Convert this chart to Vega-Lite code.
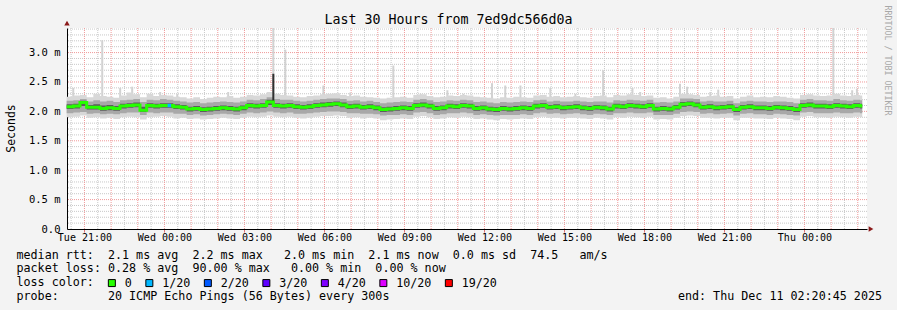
{
"$schema": "https://vega.github.io/schema/vega-lite/v6.json",
"autosize": "none",
"width": 800,
"height": 201,
"padding": {"left": 67, "top": 28, "right": 30, "bottom": 81},
"background": "#f3f3f3",
"config": {"view": {"fill": "white", "stroke": null}, "font": "DejaVu Sans Mono"},
"title": {"text": "Last 30 Hours from 7ed9dc566d0a", "font": "DejaVu Sans Mono", "fontSize": 13.3, "fontWeight": "normal", "color": "#000", "anchor": "middle", "baseline": "bottom", "dx": -18.5, "dy": 35, "offset": 0},
"datasets": {
"main": [
{"h":20.333,"a":1.90,"b":1.97,"c":2.04,"m":2.08,"d":2.12,"e":2.18,"f":2.25},
{"h":20.583,"a":1.91,"b":1.98,"c":2.05,"m":2.09,"d":2.13,"e":2.19,"f":2.27},
{"h":20.833,"a":1.93,"b":1.99,"c":2.09,"m":2.15,"d":2.18,"e":2.21,"f":2.28},
{"h":21.083,"a":1.89,"b":1.96,"c":2.03,"m":2.07,"d":2.11,"e":2.17,"f":2.24},
{"h":21.333,"a":1.90,"b":1.97,"c":2.03,"m":2.07,"d":2.12,"e":2.19,"f":2.30},
{"h":21.583,"a":1.88,"b":1.95,"c":2.01,"m":2.05,"d":2.10,"e":2.17,"f":2.26},
{"h":21.833,"a":1.89,"b":1.96,"c":2.02,"m":2.06,"d":2.11,"e":2.18,"f":2.25},
{"h":22.083,"a":1.87,"b":1.95,"c":2.01,"m":2.05,"d":2.09,"e":2.16,"f":2.23},
{"h":22.333,"a":1.90,"b":1.97,"c":2.05,"m":2.09,"d":2.13,"e":2.19,"f":2.27},
{"h":22.583,"a":1.91,"b":1.98,"c":2.06,"m":2.10,"d":2.14,"e":2.20,"f":2.32},
{"h":22.833,"a":1.90,"b":1.98,"c":2.07,"m":2.11,"d":2.15,"e":2.21,"f":2.29},
{"h":23.083,"a":1.86,"b":1.94,"c":1.99,"m":2.02,"d":2.08,"e":2.16,"f":2.24},
{"h":23.333,"a":1.90,"b":1.98,"c":2.06,"m":2.10,"d":2.14,"e":2.20,"f":2.30},
{"h":23.583,"a":1.91,"b":1.97,"c":2.05,"m":2.09,"d":2.13,"e":2.19,"f":2.26},
{"h":23.833,"a":1.92,"b":1.98,"c":2.06,"m":2.10,"d":2.14,"e":2.21,"f":2.28},
{"h":24.083,"a":1.91,"b":1.98,"c":2.06,"m":2.10,"d":2.14,"e":2.20,"f":2.27},
{"h":24.333,"a":1.88,"b":1.96,"c":2.04,"m":2.08,"d":2.12,"e":2.18,"f":2.25},
{"h":24.583,"a":1.89,"b":1.96,"c":2.03,"m":2.07,"d":2.11,"e":2.17,"f":2.24},
{"h":24.833,"a":1.87,"b":1.94,"c":2.00,"m":2.04,"d":2.08,"e":2.15,"f":2.22},
{"h":25.083,"a":1.88,"b":1.95,"c":2.01,"m":2.05,"d":2.09,"e":2.16,"f":2.24},
{"h":25.333,"a":1.86,"b":1.93,"c":1.99,"m":2.03,"d":2.07,"e":2.14,"f":2.21},
{"h":25.583,"a":1.87,"b":1.94,"c":2.00,"m":2.04,"d":2.08,"e":2.15,"f":2.23},
{"h":25.833,"a":1.88,"b":1.95,"c":2.01,"m":2.05,"d":2.09,"e":2.16,"f":2.25},
{"h":26.083,"a":1.89,"b":1.96,"c":2.02,"m":2.06,"d":2.10,"e":2.17,"f":2.24},
{"h":26.333,"a":1.88,"b":1.95,"c":2.01,"m":2.05,"d":2.09,"e":2.16,"f":2.26},
{"h":26.583,"a":1.87,"b":1.94,"c":2.00,"m":2.04,"d":2.08,"e":2.15,"f":2.23},
{"h":26.833,"a":1.89,"b":1.96,"c":2.02,"m":2.06,"d":2.10,"e":2.17,"f":2.25},
{"h":27.083,"a":1.91,"b":1.98,"c":2.06,"m":2.10,"d":2.14,"e":2.20,"f":2.28},
{"h":27.333,"a":1.90,"b":1.97,"c":2.05,"m":2.09,"d":2.13,"e":2.19,"f":2.27},
{"h":27.583,"a":1.91,"b":1.98,"c":2.06,"m":2.10,"d":2.14,"e":2.21,"f":2.29},
{"h":27.833,"a":1.93,"b":2.00,"c":2.11,"m":2.16,"d":2.20,"e":2.24,"f":2.33},
{"h":28.083,"a":1.91,"b":1.98,"c":2.06,"m":2.10,"d":2.14,"e":2.21,"f":2.30},
{"h":28.333,"a":1.90,"b":1.97,"c":2.05,"m":2.09,"d":2.13,"e":2.20,"f":2.28},
{"h":28.583,"a":1.91,"b":1.98,"c":2.06,"m":2.10,"d":2.14,"e":2.20,"f":2.27},
{"h":28.833,"a":1.89,"b":1.96,"c":2.04,"m":2.08,"d":2.12,"e":2.18,"f":2.25},
{"h":29.083,"a":1.88,"b":1.96,"c":2.03,"m":2.07,"d":2.11,"e":2.17,"f":2.24},
{"h":29.333,"a":1.89,"b":1.97,"c":2.04,"m":2.08,"d":2.12,"e":2.18,"f":2.26},
{"h":29.583,"a":1.91,"b":1.98,"c":2.06,"m":2.10,"d":2.14,"e":2.20,"f":2.27},
{"h":29.833,"a":1.92,"b":1.99,"c":2.07,"m":2.11,"d":2.15,"e":2.21,"f":2.29},
{"h":30.083,"a":1.92,"b":2.00,"c":2.08,"m":2.12,"d":2.16,"e":2.22,"f":2.30},
{"h":30.333,"a":1.93,"b":2.00,"c":2.09,"m":2.13,"d":2.17,"e":2.22,"f":2.31},
{"h":30.583,"a":1.92,"b":1.99,"c":2.07,"m":2.11,"d":2.15,"e":2.21,"f":2.28},
{"h":30.833,"a":1.89,"b":1.97,"c":2.04,"m":2.08,"d":2.12,"e":2.18,"f":2.26},
{"h":31.083,"a":1.90,"b":1.97,"c":2.05,"m":2.09,"d":2.13,"e":2.19,"f":2.27},
{"h":31.333,"a":1.88,"b":1.96,"c":2.03,"m":2.07,"d":2.11,"e":2.17,"f":2.25},
{"h":31.583,"a":1.89,"b":1.96,"c":2.04,"m":2.08,"d":2.12,"e":2.18,"f":2.24},
{"h":31.833,"a":1.88,"b":1.95,"c":2.02,"m":2.06,"d":2.10,"e":2.16,"f":2.23},
{"h":32.083,"a":1.85,"b":1.93,"c":1.99,"m":2.03,"d":2.07,"e":2.14,"f":2.22},
{"h":32.333,"a":1.86,"b":1.94,"c":2.00,"m":2.04,"d":2.08,"e":2.15,"f":2.23},
{"h":32.583,"a":1.87,"b":1.94,"c":2.01,"m":2.05,"d":2.09,"e":2.16,"f":2.24},
{"h":32.833,"a":1.88,"b":1.95,"c":2.02,"m":2.06,"d":2.10,"e":2.17,"f":2.25},
{"h":33.083,"a":1.87,"b":1.94,"c":2.01,"m":2.05,"d":2.09,"e":2.16,"f":2.23},
{"h":33.333,"a":1.91,"b":1.98,"c":2.06,"m":2.10,"d":2.14,"e":2.20,"f":2.28},
{"h":33.583,"a":1.92,"b":1.99,"c":2.07,"m":2.11,"d":2.15,"e":2.21,"f":2.29},
{"h":33.833,"a":1.90,"b":1.97,"c":2.05,"m":2.09,"d":2.13,"e":2.19,"f":2.26},
{"h":34.083,"a":1.87,"b":1.94,"c":2.01,"m":2.05,"d":2.09,"e":2.16,"f":2.24},
{"h":34.333,"a":1.88,"b":1.95,"c":2.02,"m":2.06,"d":2.10,"e":2.17,"f":2.25},
{"h":34.583,"a":1.90,"b":1.97,"c":2.05,"m":2.09,"d":2.13,"e":2.19,"f":2.27},
{"h":34.833,"a":1.89,"b":1.97,"c":2.04,"m":2.08,"d":2.12,"e":2.18,"f":2.26},
{"h":35.083,"a":1.91,"b":1.98,"c":2.06,"m":2.10,"d":2.14,"e":2.20,"f":2.28},
{"h":35.333,"a":1.90,"b":1.97,"c":2.05,"m":2.09,"d":2.13,"e":2.19,"f":2.27},
{"h":35.583,"a":1.87,"b":1.94,"c":2.01,"m":2.05,"d":2.09,"e":2.16,"f":2.25},
{"h":35.833,"a":1.88,"b":1.95,"c":2.02,"m":2.06,"d":2.10,"e":2.17,"f":2.24},
{"h":36.083,"a":1.86,"b":1.94,"c":2.00,"m":2.04,"d":2.08,"e":2.15,"f":2.23},
{"h":36.333,"a":1.85,"b":1.93,"c":1.99,"m":2.03,"d":2.07,"e":2.14,"f":2.22},
{"h":36.583,"a":1.87,"b":1.94,"c":2.01,"m":2.05,"d":2.09,"e":2.16,"f":2.24},
{"h":36.833,"a":1.86,"b":1.94,"c":2.00,"m":2.04,"d":2.08,"e":2.15,"f":2.23},
{"h":37.083,"a":1.87,"b":1.94,"c":2.01,"m":2.05,"d":2.09,"e":2.16,"f":2.25},
{"h":37.333,"a":1.88,"b":1.95,"c":2.02,"m":2.06,"d":2.10,"e":2.17,"f":2.24},
{"h":37.583,"a":1.87,"b":1.94,"c":2.01,"m":2.05,"d":2.09,"e":2.16,"f":2.23},
{"h":37.833,"a":1.90,"b":1.97,"c":2.05,"m":2.09,"d":2.13,"e":2.19,"f":2.27},
{"h":38.083,"a":1.91,"b":1.98,"c":2.06,"m":2.10,"d":2.14,"e":2.20,"f":2.28},
{"h":38.333,"a":1.89,"b":1.96,"c":2.03,"m":2.07,"d":2.11,"e":2.17,"f":2.25},
{"h":38.583,"a":1.89,"b":1.97,"c":2.04,"m":2.08,"d":2.12,"e":2.18,"f":2.26},
{"h":38.833,"a":1.88,"b":1.95,"c":2.02,"m":2.06,"d":2.10,"e":2.17,"f":2.24},
{"h":39.083,"a":1.89,"b":1.96,"c":2.03,"m":2.07,"d":2.11,"e":2.17,"f":2.25},
{"h":39.333,"a":1.89,"b":1.97,"c":2.04,"m":2.08,"d":2.12,"e":2.18,"f":2.26},
{"h":39.583,"a":1.88,"b":1.95,"c":2.02,"m":2.06,"d":2.10,"e":2.17,"f":2.24},
{"h":39.833,"a":1.87,"b":1.94,"c":2.01,"m":2.05,"d":2.09,"e":2.16,"f":2.23},
{"h":40.083,"a":1.89,"b":1.96,"c":2.03,"m":2.07,"d":2.11,"e":2.17,"f":2.26},
{"h":40.333,"a":1.88,"b":1.95,"c":2.02,"m":2.06,"d":2.10,"e":2.17,"f":2.27},
{"h":40.583,"a":1.86,"b":1.94,"c":2.00,"m":2.04,"d":2.08,"e":2.15,"f":2.24},
{"h":40.833,"a":1.90,"b":1.97,"c":2.05,"m":2.09,"d":2.13,"e":2.19,"f":2.28},
{"h":41.083,"a":1.89,"b":1.97,"c":2.04,"m":2.08,"d":2.12,"e":2.18,"f":2.27},
{"h":41.333,"a":1.91,"b":1.98,"c":2.06,"m":2.10,"d":2.14,"e":2.20,"f":2.29},
{"h":41.583,"a":1.90,"b":1.97,"c":2.05,"m":2.09,"d":2.13,"e":2.19,"f":2.28},
{"h":41.833,"a":1.89,"b":1.97,"c":2.04,"m":2.08,"d":2.12,"e":2.18,"f":2.26},
{"h":42.083,"a":1.91,"b":1.98,"c":2.06,"m":2.10,"d":2.14,"e":2.20,"f":2.27},
{"h":42.333,"a":1.86,"b":1.94,"c":2.00,"m":2.04,"d":2.08,"e":2.15,"f":2.23},
{"h":42.583,"a":1.87,"b":1.94,"c":2.01,"m":2.05,"d":2.09,"e":2.16,"f":2.24},
{"h":42.833,"a":1.86,"b":1.94,"c":2.00,"m":2.04,"d":2.08,"e":2.15,"f":2.22},
{"h":43.083,"a":1.89,"b":1.96,"c":2.03,"m":2.07,"d":2.11,"e":2.17,"f":2.25},
{"h":43.333,"a":1.92,"b":1.99,"c":2.08,"m":2.12,"d":2.16,"e":2.22,"f":2.30},
{"h":43.583,"a":1.93,"b":2.00,"c":2.09,"m":2.13,"d":2.17,"e":2.22,"f":2.29},
{"h":43.833,"a":1.92,"b":1.99,"c":2.07,"m":2.11,"d":2.15,"e":2.21,"f":2.28},
{"h":44.083,"a":1.89,"b":1.96,"c":2.03,"m":2.07,"d":2.11,"e":2.17,"f":2.25},
{"h":44.333,"a":1.89,"b":1.97,"c":2.04,"m":2.08,"d":2.12,"e":2.18,"f":2.26},
{"h":44.583,"a":1.88,"b":1.95,"c":2.02,"m":2.06,"d":2.10,"e":2.17,"f":2.27},
{"h":44.833,"a":1.89,"b":1.96,"c":2.03,"m":2.07,"d":2.11,"e":2.17,"f":2.25},
{"h":45.083,"a":1.89,"b":1.97,"c":2.04,"m":2.08,"d":2.12,"e":2.18,"f":2.26},
{"h":45.333,"a":1.85,"b":1.93,"c":1.99,"m":2.03,"d":2.07,"e":2.14,"f":2.22},
{"h":45.583,"a":1.89,"b":1.96,"c":2.03,"m":2.07,"d":2.11,"e":2.17,"f":2.25},
{"h":45.833,"a":1.89,"b":1.97,"c":2.04,"m":2.08,"d":2.12,"e":2.18,"f":2.27},
{"h":46.083,"a":1.88,"b":1.95,"c":2.02,"m":2.06,"d":2.10,"e":2.17,"f":2.24},
{"h":46.333,"a":1.88,"b":1.95,"c":2.02,"m":2.06,"d":2.10,"e":2.17,"f":2.25},
{"h":46.583,"a":1.87,"b":1.94,"c":2.01,"m":2.05,"d":2.09,"e":2.16,"f":2.24},
{"h":46.833,"a":1.89,"b":1.96,"c":2.03,"m":2.07,"d":2.11,"e":2.17,"f":2.26},
{"h":47.083,"a":1.88,"b":1.95,"c":2.02,"m":2.06,"d":2.10,"e":2.17,"f":2.25},
{"h":47.333,"a":1.87,"b":1.94,"c":2.01,"m":2.05,"d":2.09,"e":2.16,"f":2.23},
{"h":47.583,"a":1.85,"b":1.93,"c":1.99,"m":2.03,"d":2.07,"e":2.14,"f":2.22},
{"h":47.833,"a":1.91,"b":1.98,"c":2.06,"m":2.10,"d":2.14,"e":2.20,"f":2.28},
{"h":48.083,"a":1.92,"b":1.99,"c":2.07,"m":2.11,"d":2.15,"e":2.21,"f":2.29},
{"h":48.333,"a":1.90,"b":1.97,"c":2.05,"m":2.09,"d":2.13,"e":2.19,"f":2.27},
{"h":48.583,"a":1.90,"b":1.97,"c":2.05,"m":2.09,"d":2.13,"e":2.19,"f":2.26},
{"h":48.833,"a":1.89,"b":1.97,"c":2.04,"m":2.08,"d":2.12,"e":2.18,"f":2.27},
{"h":49.083,"a":1.91,"b":1.98,"c":2.06,"m":2.10,"d":2.14,"e":2.21,"f":2.30},
{"h":49.333,"a":1.90,"b":1.97,"c":2.05,"m":2.09,"d":2.13,"e":2.19,"f":2.27},
{"h":49.583,"a":1.89,"b":1.97,"c":2.04,"m":2.08,"d":2.12,"e":2.18,"f":2.26},
{"h":49.833,"a":1.91,"b":1.98,"c":2.06,"m":2.10,"d":2.14,"e":2.20,"f":2.28},
{"h":50.083,"a":1.90,"b":1.97,"c":2.05,"m":2.09,"d":2.13,"e":2.19,"f":2.27},
{"h":50.167,"a":1.90,"b":1.97,"c":2.05,"m":2.09,"d":2.13,"e":2.19,"f":2.27}
],
"sp": [
{"h":20.58,"lo":2.2,"hi":2.40,"k":"max"},
{"h":21.667,"lo":2.2,"hi":3.21,"k":"max"},
{"h":22.34,"lo":2.2,"hi":2.40,"k":"max"},
{"h":22.79,"lo":2.2,"hi":2.42,"k":"max"},
{"h":23.84,"lo":2.2,"hi":2.33,"k":"max"},
{"h":24.48,"lo":2.2,"hi":2.30,"k":"max"},
{"h":26.39,"lo":2.2,"hi":2.33,"k":"max"},
{"h":28.083,"lo":2.2,"hi":3.42,"k":"max"},
{"h":28.533,"lo":2.2,"hi":3.05,"k":"max"},
{"h":29.96,"lo":2.2,"hi":2.44,"k":"max"},
{"h":30.967,"lo":2.2,"hi":2.32,"k":"max"},
{"h":32.583,"lo":2.2,"hi":2.78,"k":"max"},
{"h":33.6,"lo":2.2,"hi":2.30,"k":"max"},
{"h":34.61,"lo":2.2,"hi":2.36,"k":"max"},
{"h":35.21,"lo":2.2,"hi":2.30,"k":"max"},
{"h":36.283,"lo":2.2,"hi":2.48,"k":"max"},
{"h":36.78,"lo":2.2,"hi":2.44,"k":"max"},
{"h":37.35,"lo":2.2,"hi":2.44,"k":"max"},
{"h":38.47,"lo":2.2,"hi":2.40,"k":"max"},
{"h":39.41,"lo":2.2,"hi":2.30,"k":"max"},
{"h":40.45,"lo":2.2,"hi":2.70,"k":"max"},
{"h":41.55,"lo":2.2,"hi":2.40,"k":"max"},
{"h":41.84,"lo":2.2,"hi":2.33,"k":"max"},
{"h":43.333,"lo":2.2,"hi":2.47,"k":"max"},
{"h":43.6,"lo":2.2,"hi":2.42,"k":"max"},
{"h":44.47,"lo":2.2,"hi":2.33,"k":"max"},
{"h":44.767,"lo":2.2,"hi":2.37,"k":"max"},
{"h":49.083,"lo":2.2,"hi":3.42,"k":"max"},
{"h":49.79,"lo":2.2,"hi":2.36,"k":"max"},
{"h":49.967,"lo":2.2,"hi":2.38,"k":"max"},
{"h":28.083,"lo":2.15,"hi":2.64,"k":"core"}
],
"loss": [
{"h":24.183,"m":2.10,"l":"1/20"}
],
"arrows": [
{"h":20.3458,"v":3.5,"s":"up"},
{"h":50.496,"v":0,"s":"right"}
],
"vgrid": [
{"h":20.5,"k":"minor"},{"h":21,"k":"major"},{"h":21.5,"k":"minor"},{"h":22,"k":"major"},{"h":22.5,"k":"minor"},{"h":23,"k":"major"},{"h":23.5,"k":"minor"},{"h":24,"k":"major"},
{"h":24.5,"k":"minor"},{"h":25,"k":"major"},{"h":25.5,"k":"minor"},{"h":26,"k":"major"},{"h":26.5,"k":"minor"},{"h":27,"k":"major"},{"h":27.5,"k":"minor"},{"h":28,"k":"major"},
{"h":28.5,"k":"minor"},{"h":29,"k":"major"},{"h":29.5,"k":"minor"},{"h":30,"k":"major"},{"h":30.5,"k":"minor"},{"h":31,"k":"major"},{"h":31.5,"k":"minor"},{"h":32,"k":"major"},
{"h":32.5,"k":"minor"},{"h":33,"k":"major"},{"h":33.5,"k":"minor"},{"h":34,"k":"major"},{"h":34.5,"k":"minor"},{"h":35,"k":"major"},{"h":35.5,"k":"minor"},{"h":36,"k":"major"},
{"h":36.5,"k":"minor"},{"h":37,"k":"major"},{"h":37.5,"k":"minor"},{"h":38,"k":"major"},{"h":38.5,"k":"minor"},{"h":39,"k":"major"},{"h":39.5,"k":"minor"},{"h":40,"k":"major"},
{"h":40.5,"k":"minor"},{"h":41,"k":"major"},{"h":41.5,"k":"minor"},{"h":42,"k":"major"},{"h":42.5,"k":"minor"},{"h":43,"k":"major"},{"h":43.5,"k":"minor"},{"h":44,"k":"major"},
{"h":44.5,"k":"minor"},{"h":45,"k":"major"},{"h":45.5,"k":"minor"},{"h":46,"k":"major"},{"h":46.5,"k":"minor"},{"h":47,"k":"major"},{"h":47.5,"k":"minor"},{"h":48,"k":"major"},
{"h":48.5,"k":"minor"},{"h":49,"k":"major"},{"h":49.5,"k":"minor"},{"h":50,"k":"major"}
],
"hgrid": [
{"v":0.1,"k":"minor"},{"v":0.2,"k":"minor"},{"v":0.3,"k":"minor"},{"v":0.4,"k":"minor"},{"v":0.5,"k":"major"},
{"v":0.6,"k":"minor"},{"v":0.7,"k":"minor"},{"v":0.8,"k":"minor"},{"v":0.9,"k":"minor"},{"v":1.0,"k":"major"},
{"v":1.1,"k":"minor"},{"v":1.2,"k":"minor"},{"v":1.3,"k":"minor"},{"v":1.4,"k":"minor"},{"v":1.5,"k":"major"},
{"v":1.6,"k":"minor"},{"v":1.7,"k":"minor"},{"v":1.8,"k":"minor"},{"v":1.9,"k":"minor"},{"v":2.0,"k":"major"},
{"v":2.1,"k":"minor"},{"v":2.2,"k":"minor"},{"v":2.3,"k":"minor"},{"v":2.4,"k":"minor"},{"v":2.5,"k":"major"},
{"v":2.6,"k":"minor"},{"v":2.7,"k":"minor"},{"v":2.8,"k":"minor"},{"v":2.9,"k":"minor"},{"v":3.0,"k":"major"},
{"v":3.1,"k":"minor"},{"v":3.2,"k":"minor"},{"v":3.3,"k":"minor"},{"v":3.4,"k":"minor"}
]
},
"layer": [
{
"data": {"name": "vgrid"},
"transform": [{"filter": "datum.k === 'minor'"}],
"mark": {"type": "rule", "color": "#c8c8c8", "strokeWidth": 1, "strokeDash": [1, 1]},
"encoding": {"x": {"field": "h", "type": "quantitative", "scale": {"domain": [20.3458, 50.3458], "nice": false, "zero": false}}}
},
{
"data": {"name": "hgrid"},
"transform": [{"filter": "datum.k === 'minor'"}],
"mark": {"type": "rule", "color": "#c8c8c8", "strokeWidth": 1, "strokeDash": [1, 1]},
"encoding": {"y": {"field": "v", "type": "quantitative", "scale": {"domain": [0, 3.418], "nice": false, "zero": false}, "axis": null}}
},
{
"data": {"name": "vgrid"},
"transform": [{"filter": "datum.k === 'major'"}],
"mark": {"type": "rule", "color": "#f09a9a", "strokeWidth": 1, "strokeDash": [1, 1]},
"encoding": {"x": {"field": "h", "type": "quantitative", "scale": {"domain": [20.3458, 50.3458], "nice": false, "zero": false}}}
},
{
"data": {"name": "hgrid"},
"transform": [{"filter": "datum.k === 'major'"}],
"mark": {"type": "rule", "color": "#f09a9a", "strokeWidth": 1, "strokeDash": [1, 1]},
"encoding": {"y": {"field": "v", "type": "quantitative", "scale": {"domain": [0, 3.418], "nice": false, "zero": false}, "axis": null}}
},
{
"data": {"name": "sp"},
"transform": [{"filter": "datum.k === 'max'"}],
"mark": {"type": "rule", "color": "#d2d2d2", "strokeWidth": 2, "clip": true},
"encoding": {
"x": {"field": "h", "type": "quantitative", "scale": {"domain": [20.3458, 50.3458], "nice": false, "zero": false}},
"y": {"field": "lo", "type": "quantitative", "scale": {"domain": [0, 3.418], "nice": false, "zero": false}, "axis": null},
"y2": {"field": "hi"}
}
},
{
"data": {"name": "main"},
"mark": {"type": "area", "interpolate": "step-after", "color": "#d8d8d8"},
"encoding": {
"x": {"field": "h", "type": "quantitative",
"scale": {"domain": [20.3458, 50.3458], "nice": false, "zero": false},
"axis": {
"title": ["median rtt:\u00a0\u00a02.1 ms avg\u00a0\u00a02.2 ms max\u00a0\u00a0\u00a02.0 ms min\u00a0\u00a02.1 ms now\u00a0\u00a00.0 ms sd\u00a0\u00a074.5\u00a0\u00a0\u00a0am/s", "packet loss: 0.28 % avg\u00a0\u00a090.00 % max\u00a0\u00a0\u00a00.00 % min\u00a0\u00a00.00 % now", "loss color:", "probe:\u00a0\u00a0\u00a0\u00a0\u00a0\u00a0\u00a020 ICMP Echo Pings (56 Bytes) every 300s\u00a0\u00a0\u00a0\u00a0\u00a0\u00a0\u00a0\u00a0\u00a0\u00a0\u00a0\u00a0\u00a0\u00a0\u00a0\u00a0\u00a0\u00a0\u00a0\u00a0\u00a0\u00a0\u00a0\u00a0\u00a0\u00a0\u00a0\u00a0\u00a0\u00a0\u00a0\u00a0\u00a0\u00a0\u00a0\u00a0\u00a0\u00a0\u00a0\u00a0\u00a0end: Thu Dec 11 02:20:45 2025"],
"titleFont": "DejaVu Sans Mono", "titleFontSize": 11.7, "titleFontWeight": "normal", "titleColor": "#000",
"titleAnchor": "start", "titleAlign": "left", "titleBaseline": "top", "titleX": -51, "titleY": 20,
"values": [21,24,27,30,33,36,39,42,45,48],
"grid": false,
"ticks": true, "tickSize": 3, "tickColor": "#e07070",
"domain": true, "domainColor": "#000", "domainWidth": 1,
"labelExpr": "['Tue','Wed','Thu'][floor(datum.value / 24)] + ' ' + (datum.value % 24 < 10 ? '0' : '') + (datum.value % 24) + ':00'",
"labelFont": "DejaVu Sans Mono", "labelFontSize": 10, "labelColor": "#000", "labelPadding": 0.5,
"labelFlush": false, "labelOverlap": false
}
},
"y": {"field": "a", "type": "quantitative",
"scale": {"domain": [0, 3.418], "nice": false, "zero": false},
"axis": {
"values": [0, 0.5, 1, 1.5, 2, 2.5, 3],
"title": "Seconds", "titleFont": "DejaVu Sans Mono", "titleFontSize": 11.5, "titleFontWeight": "normal", "titleColor": "#000",
"titleAngle": -90, "titleX": -56, "titleY": 100, "titleAlign": "center", "titleBaseline": "middle",
"grid": false, "ticks": false, "domain": true, "domainColor": "#000", "domainWidth": 1,
"labelExpr": "datum.value == 0 ? '0.0' : format(datum.value, '.1f') + ' m'",
"labelFont": "DejaVu Sans Mono", "labelFontSize": 10.5, "labelColor": "#000", "labelPadding": 7,
"labelOverlap": false, "labelFlush": false
}
},
"y2": {"field": "f"}
}
},
{
"data": {"name": "main"},
"mark": {"type": "area", "interpolate": "step-after", "color": "#a8a8a8"},
"encoding": {
"x": {"field": "h", "type": "quantitative", "scale": {"domain": [20.3458, 50.3458], "nice": false, "zero": false}},
"y": {"field": "b", "type": "quantitative", "scale": {"domain": [0, 3.418], "nice": false, "zero": false}, "axis": null},
"y2": {"field": "e"}
}
},
{
"data": {"name": "main"},
"mark": {"type": "area", "interpolate": "step-after", "color": "#5c5c5c"},
"encoding": {
"x": {"field": "h", "type": "quantitative", "scale": {"domain": [20.3458, 50.3458], "nice": false, "zero": false}},
"y": {"field": "c", "type": "quantitative", "scale": {"domain": [0, 3.418], "nice": false, "zero": false}, "axis": null},
"y2": {"field": "d"}
}
},
{
"data": {"name": "sp"},
"transform": [{"filter": "datum.k === 'core'"}],
"mark": {"type": "rule", "color": "#303030", "strokeWidth": 2},
"encoding": {
"x": {"field": "h", "type": "quantitative", "scale": {"domain": [20.3458, 50.3458], "nice": false, "zero": false}},
"y": {"field": "lo", "type": "quantitative", "scale": {"domain": [0, 3.418], "nice": false, "zero": false}, "axis": null},
"y2": {"field": "hi"}
}
},
{
"data": {"name": "main"},
"mark": {"type": "line", "interpolate": "step-after", "color": "#26ff00", "strokeWidth": 3},
"encoding": {
"x": {"field": "h", "type": "quantitative", "scale": {"domain": [20.3458, 50.3458], "nice": false, "zero": false}},
"y": {"field": "m", "type": "quantitative", "scale": {"domain": [0, 3.418], "nice": false, "zero": false}, "axis": null}
}
},
{
"data": {"name": "loss"},
"mark": {"type": "point", "shape": "square", "filled": true, "size": 12, "opacity": 1},
"encoding": {
"x": {"field": "h", "type": "quantitative", "scale": {"domain": [20.3458, 50.3458], "nice": false, "zero": false}},
"y": {"field": "m", "type": "quantitative", "scale": {"domain": [0, 3.418], "nice": false, "zero": false}, "axis": null},
"color": {"field": "l", "type": "nominal",
"scale": {"domain": ["0", "1/20", "2/20", "3/20", "4/20", "10/20", "19/20"], "range": ["#26ff00", "#00b8ff", "#0059ff", "#5e00ff", "#7e00ff", "#dd00ff", "#ff0000"]},
"legend": {
"orient": "none", "legendX": 39, "legendY": 249, "direction": "horizontal", "title": null, "padding": 0,
"symbolType": "square", "symbolSize": 49, "symbolStrokeColor": "#000", "symbolStrokeWidth": 1, "symbolOpacity": 1,
"labelFont": "DejaVu Sans Mono", "labelFontSize": 11.7, "labelColor": "#000", "labelOffset": 7, "columnPadding": 11.5
}
}
}
},
{
"data": {"name": "arrows"},
"mark": {"type": "point", "filled": true, "size": 30, "color": "#8b1a1a", "opacity": 1},
"encoding": {
"x": {"field": "h", "type": "quantitative", "scale": {"domain": [20.3458, 50.3458], "nice": false, "zero": false}},
"y": {"field": "v", "type": "quantitative", "scale": {"domain": [0, 3.418], "nice": false, "zero": false},
"axis": {"orient": "right", "title": "RRDTOOL / TOBI OETIKER", "labels": false, "ticks": false, "domain": false, "grid": false,
"titleAngle": 90, "titleFont": "DejaVu Sans Mono", "titleFontSize": 8.3, "titleFontWeight": "normal", "titleColor": "#a8a8a8",
"titleX": 19, "titleY": -23, "titleAlign": "left", "titleBaseline": "middle"}},
"shape": {"field": "s", "type": "nominal", "scale": {"domain": ["up", "right"], "range": ["triangle-up", "triangle-right"]}, "legend": null}
}
}
],
"resolve": {"axis": {"y": "independent"}}
}
